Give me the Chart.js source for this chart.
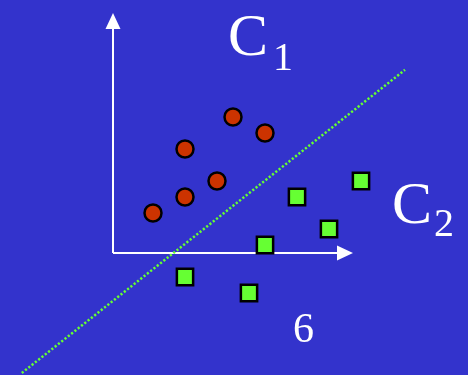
<!DOCTYPE html>
<html>
<head>
<meta charset="utf-8">
<script src="https://cdn.jsdelivr.net/npm/chart.js@4"></script>
<style>
  body { margin: 0; background: #3333cc; }
  canvas { display: block; }
</style>
</head>
<body>
<canvas id="myChart" width="468" height="375"></canvas>
<script>
// class C1 (red circles)
const class1X = [2.5, 4.5, 4.5, 6.5, 7.5, 9.5];
const class1Y = [2.5, 3.5, 6.5, 4.5, 8.5, 7.5];
// class C2 (green squares)
const class2X = [11.5, 13.5, 15.5, 9.5, 4.5, 8.5];
const class2Y = [3.5, 1.5, 4.5, 0.5, -1.5, -2.5];
// dotted separating line
const boundaryX = [-5.7, 18.25];
const boundaryY = [-7.5, 11.45];
// axis arrows (tip positions)
const axisEndX = 15;
const axisEndY = 15;

const toPoints = (xs, ys) => xs.map((x, i) => ({ x: x, y: ys[i] }));

// white axes with arrow heads, drawn under the points
const axesPlugin = {
    id: 'axes',
    beforeDatasetsDraw(chart) {
        const ctx = chart.ctx;
        const xs = chart.scales.x, ys = chart.scales.y;
        const ox = xs.getPixelForValue(0), oy = ys.getPixelForValue(0);
        const tx = xs.getPixelForValue(axisEndX), ty = ys.getPixelForValue(axisEndY);
        ctx.save();
        ctx.strokeStyle = '#fff';
        ctx.fillStyle = '#fff';
        ctx.lineWidth = 2;
        ctx.beginPath();
        ctx.moveTo(ox, oy);
        ctx.lineTo(ox, ty + 15);
        ctx.moveTo(ox, oy);
        ctx.lineTo(tx - 15, oy);
        ctx.stroke();
        ctx.beginPath();
        ctx.moveTo(ox, ty);
        ctx.lineTo(ox - 7.5, ty + 16);
        ctx.lineTo(ox + 7.5, ty + 16);
        ctx.closePath();
        ctx.moveTo(tx, oy);
        ctx.lineTo(tx - 16, oy - 7.5);
        ctx.lineTo(tx - 16, oy + 7.5);
        ctx.closePath();
        ctx.fill();
        ctx.restore();
    }
};

// class names and the slide number
const labelsPlugin = {
    id: 'labels',
    afterDraw(chart) {
        const ctx = chart.ctx;
        ctx.save();
        ctx.fillStyle = '#fff';
        ctx.textBaseline = 'alphabetic';
        ctx.font = '60px "Liberation Serif", serif';
        ctx.fillText('C', 228, 55);
        ctx.fillText('C', 392, 223);
        ctx.font = '40px "Liberation Serif", serif';
        ctx.fillText('1', 273, 70);
        ctx.fillText('2', 434, 236);
        ctx.font = '42px "Liberation Serif", serif';
        ctx.fillText('6', 293, 342);
        ctx.restore();
    }
};

const config = {
    type: 'scatter',
    data: {
        datasets: [{
            label: 'C1',
            data: toPoints(class1X, class1Y),
            pointStyle: 'circle',
            pointRadius: 8.5,
            backgroundColor: '#cc3300',
            borderColor: '#000',
            borderWidth: 2.5
        }, {
            label: 'C2',
            data: toPoints(class2X, class2Y),
            pointStyle: 'rect',
            pointRadius: 11.5,
            backgroundColor: '#66ff33',
            borderColor: '#000',
            borderWidth: 2.5
        }, {
            type: 'line',
            label: 'boundary',
            data: toPoints(boundaryX, boundaryY),
            borderColor: '#66ff33',
            borderWidth: 2.5,
            borderDash: [2.2, 2],
            pointRadius: 0,
            fill: false,
            order: 5
        }]
    },
    options: {
        responsive: false,
        animation: false,
        events: [],
        layout: { padding: 0, autoPadding: false },
        plugins: {
            legend: { display: false },
            tooltip: { enabled: false }
        },
        scales: {
            x: { type: 'linear', display: false, min: -7.0625, max: 22.1875 },
            y: { type: 'linear', display: false, min: -7.625, max: 15.8125 }
        }
    },
    plugins: [axesPlugin, labelsPlugin]
};

window.onload = function() {
    const ctx = document.getElementById('myChart').getContext('2d');
    const myChart = new Chart(ctx, config);
};
</script>
</body>
</html>
